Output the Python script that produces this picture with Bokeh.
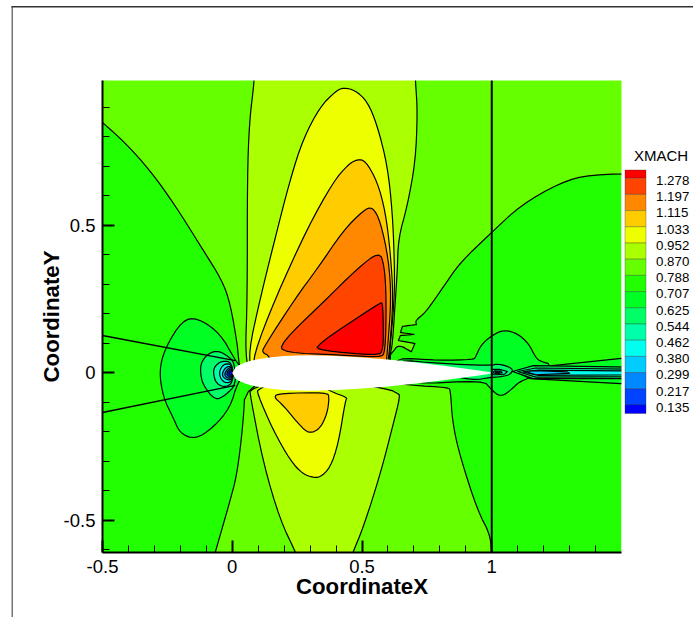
from bokeh.plotting import figure
from bokeh.embed import file_html
from bokeh.resources import INLINE
from bokeh.models import Range1d, FixedTicker, BoxAnnotation, Label

# ---- axes ----
x_limits = (-0.5, 1.5)
y_limits = (-0.6085, 0.9915)
x_ticks = [-0.5, 0, 0.5, 1]
y_ticks = [-0.5, 0, 0.5]
x_minor = [-0.4, -0.3, -0.2, -0.1, 0.1, 0.2, 0.3, 0.4, 0.6, 0.7, 0.8, 0.9, 1.1, 1.2, 1.3, 1.4]
y_minor = [-0.6, -0.4, -0.3, -0.2, -0.1, 0.1, 0.2, 0.3, 0.4, 0.6, 0.7, 0.8, 0.9]
x_tick_labels = {-0.5: "-0.5", 0: "0", 0.5: "0.5", 1: "1"}
y_tick_labels = {-0.5: "-0.5", 0: "0", 0.5: "0.5"}

# ---- legend ----
legend_title = "XMACH"
legend_levels = ["1.278", "1.197", "1.115", "1.033", "0.952", "0.870", "0.788", "0.707",
                 "0.625", "0.544", "0.462", "0.380", "0.299", "0.217", "0.135"]
legend_colors = ["#ff0000", "#ff4400", "#ff8800", "#ffcc00", "#eeff00", "#aaff00", "#66ff00", "#22ff00",
                 "#00ff22", "#00ff66", "#00ffaa", "#00ffee", "#00ccff", "#0088ff", "#0044ff", "#0000ff"]

# ---- contour bands as (CoordinateX, CoordinateY) ----
lime_top = [(-0.6, 1.1), (1.6, 1.1), (1.6, .676), (1.381, .673), (1.265, .646), (1.111, .568), (.999, .476),
            (.879, .375), (.822, .303), (.783, .253), (.744, .205), (.706, .178), (.710, .164), (.710, .164),
            (.656, .158), (.656, .158), (.648, .137), (.648, .137), (.700, .131), (.700, .131), (.700, .131),
            (.648, .127), (.648, .127), (.640, .110), (.640, .110), (.704, .100), (.704, .100), (.704, .100),
            (.690, .072), (.690, .072), (.640, .097), (.617, .069), (.598, .053), (.262, 0), (.031, 0),
            (.023, .059), (.019, .100), (-.008, .236), (-.039, .314), (-.123, .432), (-.220, .568), (-.316, .686),
            (-.413, .781), (-.5, .849), (-.6, .927)]
lime_bottom = [(.05, -.042), (.042, -.171), (.019, -.341), (-.008, -.432), (-.066, -.609), (-.085, -.67),
               (1.0, -.67), (1.0, -.558), (.945, -.466), (.879, -.286), (.849, -.171), (.841, -.059),
               (.833, -.049), (.687, -.042), (.262, 0)]
band_087_top = [(.09, 1.1), (.085, .988), (.066, .853), (.058, .659), (.058, .253), (.050, .059), (.069, 0),
                (.609, 0), (.609, .069), (.617, .093), (.629, .253), (.636, .344), (.640, .456), (.675, .568),
                (.706, .717), (.714, .886), (.706, .988), (.70, 1.1)]
band_095_top = [(.077, 0), (.062, .069), (.108, .253), (.158, .432), (.224, .659), (.274, .795), (.339, .903),
                (.397, .954), (.428, .968), (.474, .958), (.521, .920), (.559, .839), (.598, .703), (.617, .547),
                (.625, .378), (.625, .253), (.609, .093), (.606, .059), (.602, 0)]
band_103_top = [(.085, 0), (.081, .059), (.166, .253), (.289, .490), (.390, .649), (.447, .707), (.482, .724),
                (.513, .720), (.559, .649), (.590, .547), (.609, .412), (.621, .253), (.606, .076), (.594, 0)]
band_112_top = [(.147, 0), (.147, .056), (.116, .069), (.120, .086), (.243, .253), (.328, .354), (.428, .483),
                (.505, .551), (.540, .564), (.571, .514), (.602, .388), (.613, .253), (.598, .076), (.590, 0)]
band_120_top = [(.197, .069), (.185, .100), (.366, .253), (.482, .354), (.567, .412), (.586, .364), (.594, .253),
                (.590, .069), (.571, .053), (.417, .061)]
band_128_top = [(.320, .093), (.339, .076), (.559, .059), (.582, .076), (.582, .178), (.579, .236), (.571, .239)]
band_087_bottom = [(.069, -.053), (.069, -.076), (.120, -.307), (.185, -.500), (.247, -.612), (.270, -.67),
                   (.440, -.67), (.463, -.612), (.505, -.524), (.571, -.341), (.617, -.185), (.648, -.076),
                   (.636, -.069), (.609, -.056), (.262, 0)]
band_095_bottom = [(.100, -.053), (.096, -.069), (.158, -.195), (.224, -.297), (.270, -.341), (.309, -.354),
                   (.339, -.354), (.378, -.320), (.409, -.239), (.436, -.093), (.444, -.083), (.378, -.063),
                   (.262, 0)]
band_103_bottom = [(.158, -.080), (.185, -.069), (.366, -.066), (.374, -.083), (.366, -.137), (.339, -.188),
                   (.301, -.205), (.270, -.188), (.197, -.110)]
nose_070 = [(.012, .042), (-.046, .134), (-.135, .188), (-.193, .178), (-.258, .086), (-.282, .008), (-.266, -.083),
            (-.228, -.151), (-.201, -.205), (-.143, -.225), (-.073, -.185), (-.008, -.117), (.019, -.036), (.05, 0)]
nose_062 = [(.008, .036), (-.015, .056), (-.054, .076), (-.093, .066), (-.120, .036), (-.123, 0), (-.112, -.042),
            (-.066, -.093), (-.027, -.076), (.015, -.039)]
nose_054 = [(0, .036), (-.039, .042), (-.069, .022), (-.073, -.002), (-.062, -.036), (-.027, -.049), (.004, -.032)]
nose_046 = [(0, .029), (-.031, .032), (-.050, .008), (-.046, -.019), (-.023, -.036), (.004, -.025)]
nose_038 = [(0, .022), (-.023, .022), (-.039, 0), (-.035, -.015), (-.015, -.025), (.004, -.019)]
nose_030 = [(0, .019), (-.015, .017), (-.029, 0), (-.027, -.012), (-.012, -.019), (.004, -.014)]
nose_022 = [(0, .014), (-.012, .012), (-.021, 0), (-.019, -.008), (-.008, -.014), (.004, -.010)]
nose_014 = [(0, .008), (-.008, .007), (-.013, 0), (-.012, -.007), (0, -.008)]
tail_070 = [(.621, .053), (.802, .042), (.930, .046), (.937, .053), (.957, .093), (.995, .124), (1.045, .147),
            (1.099, .134), (1.142, .100), (1.169, .053), (1.188, .039), (1.234, .029), (1.149, -.015), (1.103, -.032),
            (1.080, -.053), (1.034, -.083), (.995, -.053), (.968, -.025), (.687, -.039), (.648, 0)]
tail_062 = [(.621, .046), (.802, .032), (.995, .025), (1.026, .032), (1.084, .015), (1.072, -.005), (1.041, -.012),
            (.995, -.015), (.930, -.025), (.8, 0), (.7, 0)]
tail_054 = [(1.0, .012), (1.03, .012), (1.06, .005), (1.05, -.004), (1.02, -.006), (1.0, -.006)]
tail_038 = [(1.01, .007), (1.035, .006), (1.04, .001), (1.02, -.002), (1.005, 0)]
tail_030 = [(1.015, .004), (1.03, .004), (1.03, 0), (1.015, 0)]
wake_070 = [(1.234, .025), (1.6, .059), (1.6, -.041), (1.149, -.019), (1.09, .005)]
wake_062 = [(1.08, .005), (1.16, .025), (1.6, .019), (1.6, -.019), (1.16, -.019)]
wake_054 = [(1.10, .005), (1.17, .017), (1.6, .012), (1.6, -.012), (1.17, -.014)]
wake_046 = [(1.12, .004), (1.18, .010), (1.6, .006), (1.6, -.006), (1.18, -.008)]
wake_038 = [(1.13, .005), (1.17, .008), (1.29, .004), (1.30, -.001), (1.17, -.006)]

# (outline, colour, drawn with rounded corners)
bands = [
    (lime_top, "#66ff00", True), (lime_bottom, "#66ff00", True),
    (band_087_top, "#aaff00", True), (band_095_top, "#eeff00", True), (band_103_top, "#ffcc00", True),
    (band_112_top, "#ff8800", True), (band_120_top, "#ff4400", True), (band_128_top, "#ff0000", True),
    (band_087_bottom, "#aaff00", True), (band_095_bottom, "#eeff00", True), (band_103_bottom, "#ffcc00", True),
    (nose_070, "#00ff22", True), (nose_062, "#00ff66", True), (nose_054, "#00ffaa", True), (nose_046, "#00ffee", True),
    (nose_038, "#00ccff", True), (nose_030, "#0088ff", True), (nose_022, "#0044ff", True), (nose_014, "#0000ff", True),
    (tail_070, "#00ff22", True), (wake_070, "#00ff22", False), (tail_062, "#00ff66", True), (wake_062, "#00ff66", False),
    (tail_054, "#00ffaa", False), (wake_054, "#00ffaa", False), (tail_038, "#00ccff", False), (tail_030, "#0088ff", False),
    (wake_046, "#00ffee", False), (wake_038, "#00ccff", False),
]

# straight contour lines
stagnation_upper_x = [-0.5, 0.0116]
stagnation_upper_y = [0.127, 0.042]
stagnation_lower_x = [-0.5, 0.0116]
stagnation_lower_y = [-0.134, -0.042]
cut_line_x = [1.0, 1.0]
cut_line_y = [1.1, -0.7]

# body section: chord position and half thickness
airfoil_x = [0, .0125, .025, .05, .075, .1, .15, .2, .25, .3, .4, .5, .6, .7, .8, .9, .95, 1.0]
airfoil_t = [0, .0189, .0262, .0356, .042, .0468, .0534, .0574, .0594, .06, .058, .0529, .0456, .0366, .0262, .0145, .0081, .0013]

FONT = "Liberation Sans"
W, H = 693, 617
PLOT_LEFT, PLOT_RIGHT, PLOT_TOP, PLOT_BOTTOM = 102, 621, 80, 552
sx = (PLOT_RIGHT - PLOT_LEFT) / (x_limits[1] - x_limits[0])
sy = (PLOT_BOTTOM - PLOT_TOP) / (y_limits[1] - y_limits[0])
x0 = x_limits[0] - PLOT_LEFT / sx
x1 = x_limits[1] + (W - PLOT_RIGHT) / sx
y1 = y_limits[1] + PLOT_TOP / sy
y0 = y_limits[0] - (H - PLOT_BOTTOM) / sy

p = figure(width=W, height=H, output_backend="svg", toolbar_location=None,
           x_range=Range1d(x0, x1), y_range=Range1d(y0, y1),
           min_border=0, background_fill_color="white", border_fill_color="white", outline_line_color=None,
           x_axis_label="CoordinateX", y_axis_label="CoordinateY")
p.grid.visible = False


def rounded(pts, passes=2):
    for _ in range(passes):
        out = []
        for a, b in zip(pts, pts[1:] + pts[:1]):
            out.append((0.75 * a[0] + 0.25 * b[0], 0.75 * a[1] + 0.25 * b[1]))
            out.append((0.25 * a[0] + 0.75 * b[0], 0.25 * a[1] + 0.75 * b[1]))
        pts = out
    return pts


p.quad(left=x_limits[0], right=x_limits[1], bottom=y_limits[0], top=y_limits[1], fill_color="#22ff00", line_color=None)

for pts, color, smooth in bands:
    q = rounded(pts) if smooth else pts
    p.patch([a[0] for a in q], [a[1] for a in q], fill_color=color,
            line_color="black", line_width=1.2, line_join="round")

p.line(stagnation_upper_x, stagnation_upper_y, line_color="black", line_width=1.4)
p.line(stagnation_lower_x, stagnation_lower_y, line_color="black", line_width=1.4)

p.patch(airfoil_x + airfoil_x[::-1], airfoil_t + [-t for t in airfoil_t[::-1]],
        fill_color="white", line_color=None)
p.line(cut_line_x, cut_line_y, line_color="black", line_width=2)

# the page around the plot area stays white
for l, r, b, t in ((x0, x_limits[0], y0, y1), (x_limits[1], x1, y0, y1),
                   (x0, x1, y_limits[1], y1), (x0, x1, y0, y_limits[0])):
    p.quad(left=l, right=r, bottom=b, top=t, fill_color="white", line_color=None)

for ax, ticks, minor, labels, bounds, where in (
        (p.xaxis[0], x_ticks, x_minor, x_tick_labels, x_limits, y_limits[0]),
        (p.yaxis[0], y_ticks, y_minor, y_tick_labels, y_limits, x_limits[0])):
    ax.fixed_location = where
    ax.bounds = bounds
    ax.ticker = FixedTicker(ticks=ticks, minor_ticks=minor)
    ax.major_label_overrides = labels
    ax.axis_line_color = "black"
    ax.axis_line_width = 2
    ax.major_tick_in = 12
    ax.major_tick_out = 0
    ax.major_tick_line_width = 2
    ax.major_tick_line_color = "black"
    ax.minor_tick_in = 7
    ax.minor_tick_out = 0
    ax.minor_tick_line_color = "black"
    ax.minor_tick_line_width = 1
    ax.major_label_text_font = FONT
    ax.major_label_text_font_size = "18.5px"
    ax.major_label_text_color = "black"
    ax.major_label_standoff = 7
    ax.axis_label_text_font = FONT
    ax.axis_label_text_font_size = "22.2px"
    ax.axis_label_text_font_style = "bold"
    ax.axis_label_text_color = "black"
p.xaxis[0].axis_label_standoff = -2
p.yaxis[0].axis_label_standoff = -3
p.yaxis[0].major_label_orientation = "horizontal"


def box(left, right, top, bottom, **kw):
    # screen heights on a BoxAnnotation count from the bottom of the canvas
    return BoxAnnotation(left=left, right=right, top=H - top, bottom=H - bottom,
                         left_units="screen", right_units="screen", top_units="screen", bottom_units="screen",
                         fill_alpha=1, **kw)


def label(x, y, text, size):
    return Label(x=x, y=H - y, x_units="screen", y_units="screen", text=text,
                 text_font=FONT, text_font_size=size, text_color="black",
                 text_baseline="middle", text_align="left")


# page frame
p.add_layout(box(11, 12.5, 6, 640, fill_color="#777777", line_color=None))
p.add_layout(box(11, 700, 5.5, 7, fill_color="#333333", line_color=None))

# legend
edges = [169.5] + [177.7 + 16.2 * i for i in range(15)] + [413]
for i, c in enumerate(legend_colors):
    p.add_layout(box(624.5, 645.5, edges[i], edges[i + 1], fill_color=c, line_color="#222222", line_width=1))
for i, t in enumerate(legend_levels):
    p.add_layout(label(655.5, edges[i + 1] + 2.2, t, "13.3px"))
p.add_layout(label(633.5, 155, legend_title, "15px"))

open("out.html", "w").write(file_html(p, INLINE))
